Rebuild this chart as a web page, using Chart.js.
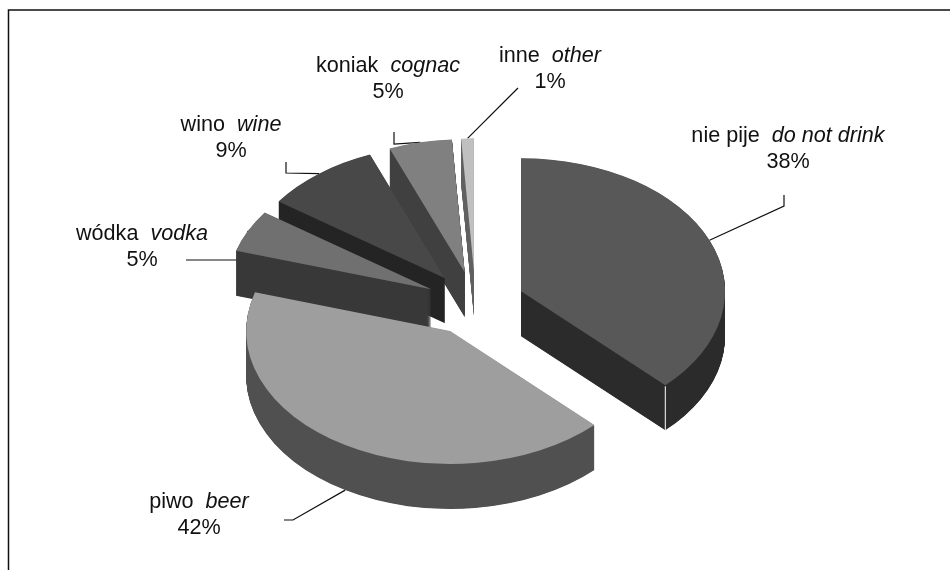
<!DOCTYPE html>
<html>
<head>
<meta charset="utf-8">
<style>
  html, body { margin: 0; padding: 0; background: #fff; }
  #wrap { width: 950px; height: 570px; }
</style>
<script src="https://cdn.jsdelivr.net/npm/chart.js@4"></script>
</head>
<body>
<div id="wrap"><canvas id="pie" width="950" height="570"></canvas></div>
<script>
// values (slice angles), printed labels are the rounded ones
const labelsPl = ['nie pije', 'piwo', 'wódka', 'wino', 'koniak', 'inne'];
const labelsEn = ['do not drink', 'beer', 'vodka', 'wine', 'cognac', 'other'];
const percentLabels = ['38%', '42%', '5%', '9%', '5%', '1%'];
const values = [37.5, 42.2, 5.1, 9.2, 5, 1];

const topColors = ['#585858', '#9e9e9e', '#707070', '#484848', '#808080', '#c0c0c0'];
const sideColors = ['#2b2b2b', '#505050', '#383838', '#242424', '#404040', '#606060'];

// 3d look
const squash = 0.652;
const depth = 45;
const explode = 49.3;
const centerY = 303.5;
const drawOrder = [5, 4, 3, 2, 0, 1];

// label centres and the fixed part of each leader
const labelPos = [[788, 136], [199, 502], [142, 234], [231, 125], [388, 66], [550, 56]];
const leaderPts = [
  [[784, 195], [784, 206]],
  [[284, 520], [293, 520]],
  [[186, 260], [240, 260]],
  [[286, 162], [286, 173]],
  [[394, 132], [394, 144]],
  [[518, 88]]
];

function midAngle(arc) {
  return (arc.startAngle + arc.endAngle) / 2;
}

function rimPoint(arc, angle, lift) {
  const mid = midAngle(arc);
  const x = arc.x + Math.cos(mid) * explode + Math.cos(angle) * arc.outerRadius;
  const y = centerY + (Math.sin(mid) * explode + Math.sin(angle) * arc.outerRadius) * squash;
  return [x, y + lift];
}

function drawSlice(ctx, arc, shift) {
  const mid = midAngle(arc);
  ctx.save();
  ctx.translate(0, centerY + shift);
  ctx.scale(1, squash);
  ctx.translate(0, -arc.y);
  ctx.translate(Math.cos(mid) * explode, Math.sin(mid) * explode);
  arc.draw(ctx);
  ctx.restore();
}

// side of a slice: stack the arc on a spare canvas, then flood it with one colour
const sideCanvas = document.createElement('canvas');
sideCanvas.width = 950;
sideCanvas.height = 570;

function drawSide(ctx, arc, color) {
  const side = sideCanvas.getContext('2d');
  side.globalCompositeOperation = 'source-over';
  side.clearRect(0, 0, 950, 570);
  for (let d = depth; d > 0; d -= 0.5) {
    drawSlice(side, arc, d);
  }
  side.globalCompositeOperation = 'source-in';
  side.fillStyle = color;
  side.fillRect(0, 0, 950, 570);
  ctx.drawImage(sideCanvas, 0, 0);
}

const pie3d = {
  id: 'pie3d',
  beforeDatasetsDraw(chart) {
    const ctx = chart.ctx;
    const arcs = chart.getDatasetMeta(0).data;

    // frame
    ctx.save();
    ctx.strokeStyle = '#111';
    ctx.lineWidth = 1.5;
    ctx.beginPath();
    ctx.moveTo(8.5, 570);
    ctx.lineTo(8.5, 10);
    ctx.lineTo(950, 10);
    ctx.stroke();
    ctx.restore();

    // leaders go under the slices, wodka's end is hidden by its side
    ctx.save();
    ctx.strokeStyle = '#111';
    ctx.lineWidth = 1.2;
    arcs.forEach(function (arc, i) {
      const mid = midAngle(arc);
      const lift = Math.sin(mid) > 0 ? depth : 0;
      const end = rimPoint(arc, mid, lift);
      ctx.beginPath();
      leaderPts[i].forEach(function (p, j) {
        if (j === 0) ctx.moveTo(p[0], p[1]);
        else ctx.lineTo(p[0], p[1]);
      });
      ctx.lineTo(end[0], end[1]);
      ctx.stroke();
    });
    ctx.restore();

    drawOrder.forEach(function (i) {
      const arc = arcs[i];
      drawSide(ctx, arc, sideColors[i]);
      drawSlice(ctx, arc, 0);

      // thin light seam on the front corner of the first slice
      if (i === 0) {
        const p = rimPoint(arc, arc.endAngle, 0);
        ctx.save();
        ctx.strokeStyle = '#fff';
        ctx.lineWidth = 1;
        ctx.beginPath();
        ctx.moveTo(p[0], p[1] + 1);
        ctx.lineTo(p[0], p[1] + depth);
        ctx.stroke();
        ctx.restore();
      }
    });

    // text
    ctx.save();
    ctx.fillStyle = '#111';
    ctx.textBaseline = 'middle';
    labelsPl.forEach(function (pl, i) {
      const normal = '21.6px "Liberation Sans"';
      const italic = 'italic 21.6px "Liberation Sans"';
      const first = pl + '  ';
      ctx.font = normal;
      const w1 = ctx.measureText(first).width;
      const w3 = ctx.measureText(percentLabels[i]).width;
      ctx.font = italic;
      const w2 = ctx.measureText(labelsEn[i]).width;
      const left = labelPos[i][0] - (w1 + w2) / 2;
      ctx.textAlign = 'left';
      ctx.font = normal;
      ctx.fillText(first, left, labelPos[i][1]);
      ctx.font = italic;
      ctx.fillText(labelsEn[i], left + w1, labelPos[i][1]);
      ctx.font = normal;
      ctx.fillText(percentLabels[i], labelPos[i][0] - w3 / 2, labelPos[i][1] + 26);
    });
    ctx.restore();

    return false;
  }
};

new Chart(document.getElementById('pie'), {
  type: 'pie',
  data: {
    labels: labelsPl,
    datasets: [{
      data: values,
      backgroundColor: topColors,
      borderWidth: 0,
      hoverOffset: 0
    }]
  },
  options: {
    responsive: false,
    animation: false,
    radius: 204,
    layout: { padding: { left: 1 } },
    plugins: {
      legend: { display: false },
      tooltip: { enabled: false }
    }
  },
  plugins: [pie3d]
});
</script>
</body>
</html>
